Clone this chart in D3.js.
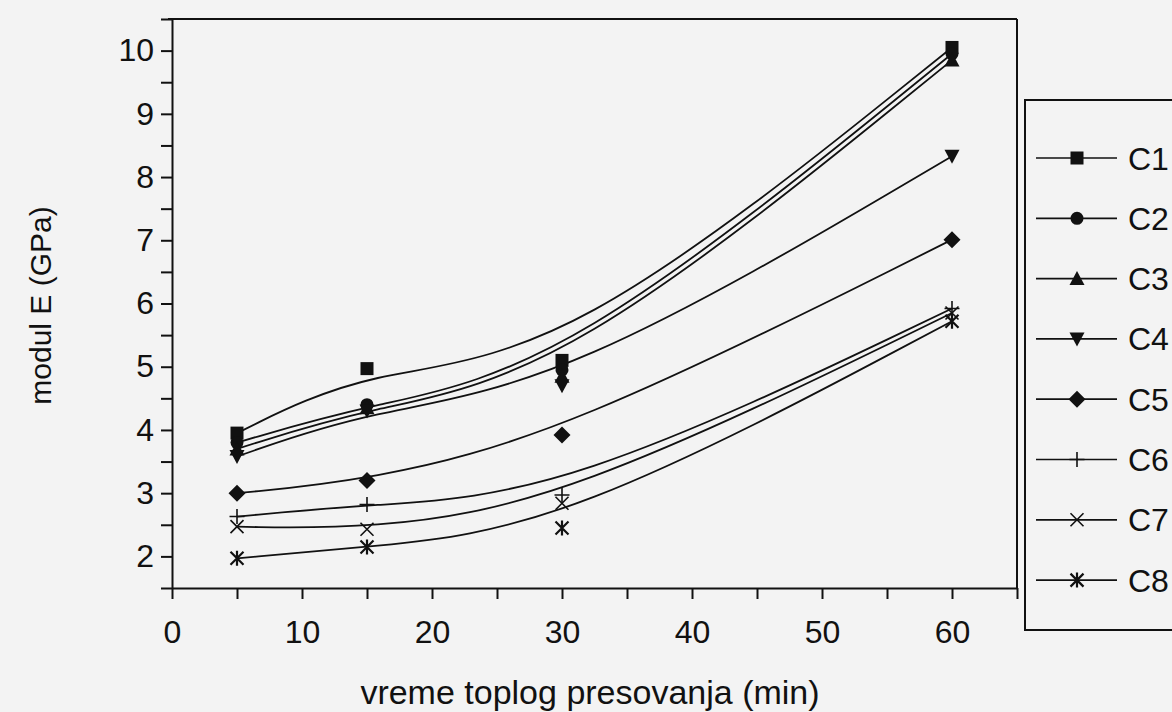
<!DOCTYPE html>
<html>
<head>
<meta charset="utf-8">
<script src="https://cdn.jsdelivr.net/npm/d3@7/dist/d3.min.js"></script>
<style>
  html, body { margin: 0; padding: 0; background: #f3f3f3; }
  svg { display: block; }
  text { font-family: "Liberation Sans", Arial, sans-serif; fill: #111; }
</style>
</head>
<body>
<svg id="chart" width="1172" height="712"></svg>
<script>
// ---- data ----
const times = [5, 15, 30, 60];
const seriesNames = ["C1", "C2", "C3", "C4", "C5", "C6", "C7", "C8"];
const markerTypes = ["square", "circle", "triangle", "triangleDown", "diamond", "plus", "cross", "asterisk"];
const C1 = [3.95, 4.97, 5.10, 10.05];
const C2 = [3.80, 4.40, 4.95, 9.95];
const C3 = [3.70, 4.35, 4.85, 9.85];
const C4 = [3.58, 4.30, 4.70, 8.33];
const C5 = [3.00, 3.20, 3.92, 7.01];
const C6 = [2.63, 2.82, 2.97, 5.92];
const C7 = [2.47, 2.43, 2.84, 5.85];
const C8 = [1.97, 2.15, 2.45, 5.72];
const seriesValues = [C1, C2, C3, C4, C5, C6, C7, C8];
const xTickValues = [0, 10, 20, 30, 40, 50, 60];
const yTickValues = [2, 3, 4, 5, 6, 7, 8, 9, 10];
const xTitle = "vreme toplog presovanja (min)";
const yTitle = "modul E (GPa)";

// ---- layout ----
const svg = d3.select("#chart");
const L = 172, R = 1017, T = 19, B = 588;
const x = d3.scaleLinear().domain([0, 65]).range([L, R]);
const y = d3.scaleLinear().domain([1.5, 10.5]).range([B, T]);
const ink = "#111";

// frame (top and right)
svg.append("line").attr("x1", L - 4).attr("x2", R).attr("y1", T).attr("y2", T)
  .attr("stroke", ink).attr("stroke-width", 2);
svg.append("line").attr("x1", R).attr("x2", R).attr("y1", T).attr("y2", B)
  .attr("stroke", ink).attr("stroke-width", 2);

// axes
const xAxis = d3.axisBottom(x).tickValues(d3.range(0, 66, 5))
  .tickFormat(d => xTickValues.includes(d) ? d : "").tickSize(11).tickSizeOuter(0).tickPadding(21);
const gx = svg.append("g").attr("transform", `translate(0,${B})`).call(xAxis);
const yAxis = d3.axisLeft(y).tickValues(d3.range(1.5, 10.51, 0.5))
  .tickFormat(d => yTickValues.includes(d) ? d : "").tickSize(11).tickSizeOuter(0).tickPadding(7);
const gy = svg.append("g").attr("transform", `translate(${L},0)`).call(yAxis);
[gx, gy].forEach(g => {
  g.selectAll("path").attr("stroke", ink).attr("stroke-width", 2);
  g.selectAll("line").attr("stroke", ink).attr("stroke-width", 2);
  g.selectAll("text").attr("font-size", 32).attr("fill", ink)
    .style("font-family", '"Liberation Sans", Arial, sans-serif');
});

// titles
svg.append("text").attr("x", 590).attr("y", 704)
  .attr("text-anchor", "middle").attr("font-size", 34).text(xTitle);
svg.append("text").attr("transform", `translate(51,${(T + B) / 2 + 2}) rotate(-90)`)
  .attr("text-anchor", "middle").attr("font-size", 30).text(yTitle);

// markers
function drawMarker(g, type, cx, cy) {
  const s = 6.5;
  if (type === "square") {
    g.append("rect").attr("x", cx - s).attr("y", cy - s).attr("width", 2 * s).attr("height", 2 * s).attr("fill", ink);
  } else if (type === "circle") {
    g.append("circle").attr("cx", cx).attr("cy", cy).attr("r", s).attr("fill", ink);
  } else if (type === "triangle") {
    g.append("path").attr("d", `M${cx},${cy - s - 1}L${cx + s + 1},${cy + s}L${cx - s - 1},${cy + s}Z`).attr("fill", ink);
  } else if (type === "triangleDown") {
    g.append("path").attr("d", `M${cx},${cy + s + 1}L${cx + s + 1},${cy - s}L${cx - s - 1},${cy - s}Z`).attr("fill", ink);
  } else if (type === "diamond") {
    g.append("path").attr("d", `M${cx},${cy - s - 2}L${cx + s + 2},${cy}L${cx},${cy + s + 2}L${cx - s - 2},${cy}Z`).attr("fill", ink);
  } else if (type === "plus") {
    g.append("path").attr("d", `M${cx - s - 1},${cy}H${cx + s + 1}M${cx},${cy - s - 1}V${cy + s + 1}`)
      .attr("stroke", ink).attr("stroke-width", 1.6).attr("fill", "none");
  } else if (type === "cross") {
    g.append("path").attr("d", `M${cx - s},${cy - s}L${cx + s},${cy + s}M${cx + s},${cy - s}L${cx - s},${cy + s}`)
      .attr("stroke", ink).attr("stroke-width", 1.6).attr("fill", "none");
  } else if (type === "asterisk") {
    g.append("path").attr("d", `M${cx - s},${cy - s}L${cx + s},${cy + s}M${cx + s},${cy - s}L${cx - s},${cy + s}M${cx},${cy - s - 1}V${cy + s + 1}`)
      .attr("stroke", ink).attr("stroke-width", 2.2).attr("fill", "none");
  }
}

// lines (smoothed B-spline through the data points)
const line = d3.line().x(d => x(d[0])).y(d => y(d[1])).curve(d3.curveBasis);
const plot = svg.append("g");
seriesValues.forEach((vals, i) => {
  const pts = times.map((t, k) => [t, vals[k]]);
  plot.append("path").datum(pts).attr("d", line)
    .attr("fill", "none").attr("stroke", ink).attr("stroke-width", 1.8);
});
seriesValues.forEach((vals, i) => {
  times.forEach((t, k) => drawMarker(plot, markerTypes[i], x(t), y(vals[k])));
});

// legend
const lg = svg.append("g");
lg.append("rect").attr("x", 1025).attr("y", 100).attr("width", 200).attr("height", 530)
  .attr("fill", "none").attr("stroke", ink).attr("stroke-width", 2);
seriesNames.forEach((name, i) => {
  const ly = 158 + i * 60.3;
  lg.append("line").attr("x1", 1036).attr("x2", 1117).attr("y1", ly).attr("y2", ly)
    .attr("stroke", ink).attr("stroke-width", 1.7);
  drawMarker(lg, markerTypes[i], 1077, ly);
  lg.append("text").attr("x", 1128).attr("y", ly).attr("dy", "0.36em")
    .attr("font-size", 32).text(name);
});
</script>
</body>
</html>
